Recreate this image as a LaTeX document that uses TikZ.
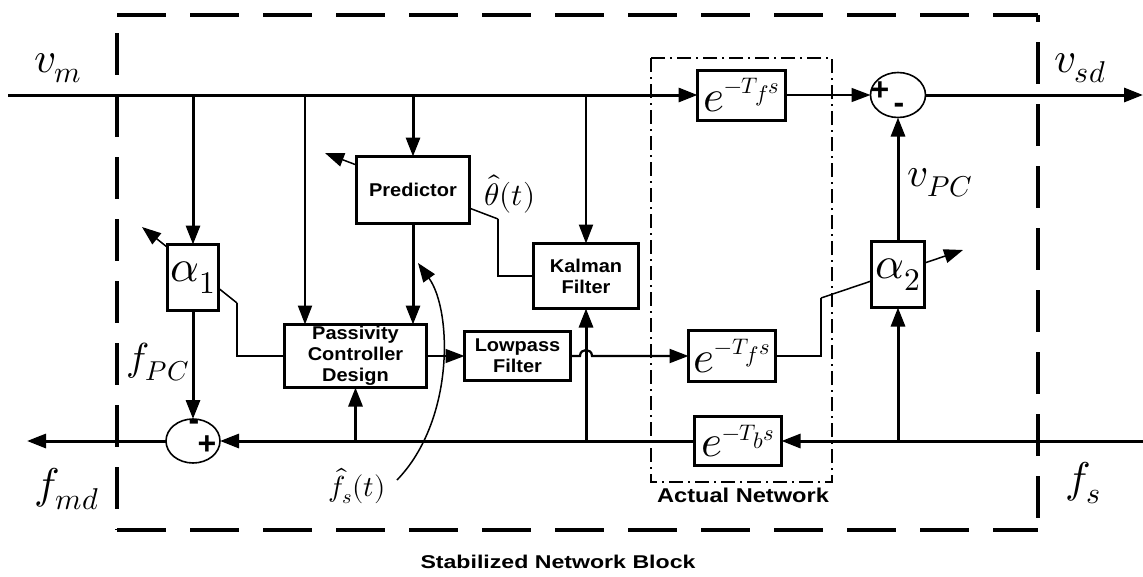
\documentclass[tikz,border=0pt]{standalone}
\usepackage{graphicx}
\usepackage{fontspec}
\usepackage{unicode-math}
\setmathfont{Latin Modern Math}
\newfontfamily\boxfont{Liberation Sans}[FakeStretch=1.08]
\newfontfamily\capfont{Liberation Sans}
\usetikzlibrary{arrows.meta,backgrounds,shapes.geometric}
\begin{document}
\begin{tikzpicture}[x=1pt,y=-1pt,
  every node/.style={inner sep=0pt,outer sep=0pt},
  arr/.style={-{Triangle[length=19pt,width=14pt]}},
  lnthick/.style={line width=3pt},
  lnmid/.style={line width=2.2pt},
  lnthin/.style={line width=1.5pt},
  blk/.style={draw,line width=3pt,fill=white,align=center,
     font=\boxfont\bfseries\fontsize{18.5}{21}\selectfont},
  sumj/.style={draw,ellipse,line width=1.6pt,fill=white,minimum width=54pt,minimum height=44pt},
  mlab/.style={font=\fontsize{43}{43}\selectfont},
  elab/.style={font=\fontsize{45}{45}\selectfont},
  sgn/.style={font=\capfont\bfseries\fontsize{32}{32}\selectfont},
  bdash/.style={line width=4pt,dash pattern=on 49pt off 24pt},
  vdash/.style={line width=4pt,dash pattern=on 42pt off 20pt},
]
\useasboundingbox (0,0) rectangle (1143,576);

% outer stabilized block
\draw[bdash] (117,15) -- (1038,15);
\draw[bdash] (117,530) -- (1038,530);
\draw[vdash,dash phase=44pt] (117,15) -- (117,530);
\draw[vdash,dash phase=35pt] (1038,15) -- (1038,530);

% actual network
\draw[line width=1.8pt,dash pattern=on 14pt off 5pt on 2pt off 5pt] (651,58) rectangle (832,482);

% blocks
\node[blk,elab,minimum width=51pt,minimum height=66pt] (a1) at (193,277.5) {$\alpha_1$};
\node[blk,minimum width=113pt,minimum height=67pt] (pred) at (413,190) {Predictor};
\node[blk,minimum width=105pt,minimum height=65pt] (kal) at (586,276) {Kalman\\Filter};
\node[blk,minimum width=142pt,minimum height=63pt] (pass) at (355.5,356) {Passivity\\Controller\\Design};
\node[blk,minimum width=106pt,minimum height=49pt] (low) at (517.5,356) {Lowpass\\Filter};
\node[blk,elab,minimum width=88pt,minimum height=50pt] (et) at (741.5,95) {$e^{\scriptscriptstyle -T_f s}$};
\node[blk,elab,minimum width=87pt,minimum height=51pt] (em) at (732,356) {$e^{\scriptscriptstyle -T_f s}$};
\node[blk,elab,minimum width=87pt,minimum height=49pt] (eb) at (738,441) {$e^{\scriptscriptstyle -T_b s}$};
\node[blk,elab,minimum width=53pt,minimum height=66pt] (a2) at (898,274.5) {$\alpha_2$};
\node[sumj] (s1) at (193,441) {};
\node[sumj,minimum width=55pt,minimum height=45pt] (s2) at (898,95) {};
\node[sgn] (s2p) at (880,91) {+};
\node[sgn] (s2m) at (899,108) {-};
\node[sgn] (s1m) at (194,425) {-};
\node[sgn] (s1p) at (207,445) {+};

% coordinates
\coordinate (vmL) at (8,95);
\coordinate (vsd) at (1143,95);
\coordinate (fsR) at (1143,441);
\coordinate (fmd) at (27,441);
\coordinate (br1) at (305,95);
\coordinate (a1s) at (237,303);
\coordinate (a1e) at (142,227);
\coordinate (prs) at (498,219);
\coordinate (pre) at (325,153);
\coordinate (a2s) at (821,298);
\coordinate (a2e) at (963,250);
\coordinate (hopA) at (580,356);
\coordinate (hopB) at (592,356);
\coordinate (crvS) at (397,480);
\coordinate (crvE) at (418,263);

% main paths
\draw[lnthick,arr] (vmL) -- (et);
\draw[lnthin,arr] (et) -- (s2);
\draw[lnthick,arr] (s2) -- (vsd);
\draw[lnthick,arr] (fsR) -- (eb);
\draw[lnthick,arr] (eb) -- (s1);
\draw[lnthick,arr] (s1) -- (fmd);

% branches from v_m
\draw[lnthick,arr] (a1.north |- vmL) -- (a1);
\draw[lnthick,arr] (a1) -- (s1);
\draw[lnmid,arr] (br1) -- (br1 |- pass.north);
\draw[lnthick,arr] (pred.north |- vmL) -- (pred);
\draw[lnthick,arr] (pred.south) -- (pred.south |- pass.north);
\draw[lnmid,arr] (kal.north |- vmL) -- (kal);

% branches from f_s line
\draw[lnthick,arr] (pass.south |- fsR) -- (pass);
\draw[lnthick,arr] (kal.south |- fsR) -- (kal);
\draw[lnthick,arr] (a2.south |- fsR) -- (a2);
\draw[lnthick,arr] (a2) -- (s2);

% internal signals
\draw[lnthin,arr] (pass) -- (low);
\draw[lnmid,arr] (low) -- (hopA) .. controls +(0,-8) and +(0,-8) .. (hopB) -- (em);
\draw[lnthin] (a1s) |- (pass.west);
\draw[lnthin] (prs) |- (kal.west);
\draw[lnmid] (em.east) -| (a2s);
\draw[lnthin,arr] (crvS) .. controls (455,420) and (452,310) .. (crvE);

\begin{scope}[on background layer]
\draw[lnthin,arr] (a1s) -- (a1e);
\draw[lnthin,arr] (prs) -- (pre);
\draw[lnthin,arr] (a2s) -- (a2e);
\end{scope}

% labels
\node[mlab] (lvm) at (58,68) {$v_m$};
\node[mlab] (lvsd) at (1080,68) {$v_{sd}$};
\node[mlab] (lfmd) at (67,489) {$f_{md}$};
\node[mlab] (lfs) at (1083,483) {$f_s$};
\node[font=\fontsize{39}{39}\selectfont] (lfpc) at (158,362) {$f_{PC}$};
\node[font=\fontsize{41}{41}\selectfont] (lvpc) at (940,183) {$v_{PC}$};
\node[font=\fontsize{31}{31}\selectfont] (lth) at (510,194) {$\hat{\theta}(t)$};
\node[font=\fontsize{29}{29}\selectfont] (lfh) at (357,486) {$\hat{f}_s(t)$};
\node[anchor=base] (an) at (743,502) {\scalebox{1.18}[1]{\capfont\bfseries\fontsize{20}{21}\selectfont Actual Network}};
\node[anchor=base] (cap) at (558,568) {\scalebox{1.25}[1]{\capfont\bfseries\fontsize{18.5}{19}\selectfont Stabilized Network Block}};
\end{tikzpicture}
\end{document}
